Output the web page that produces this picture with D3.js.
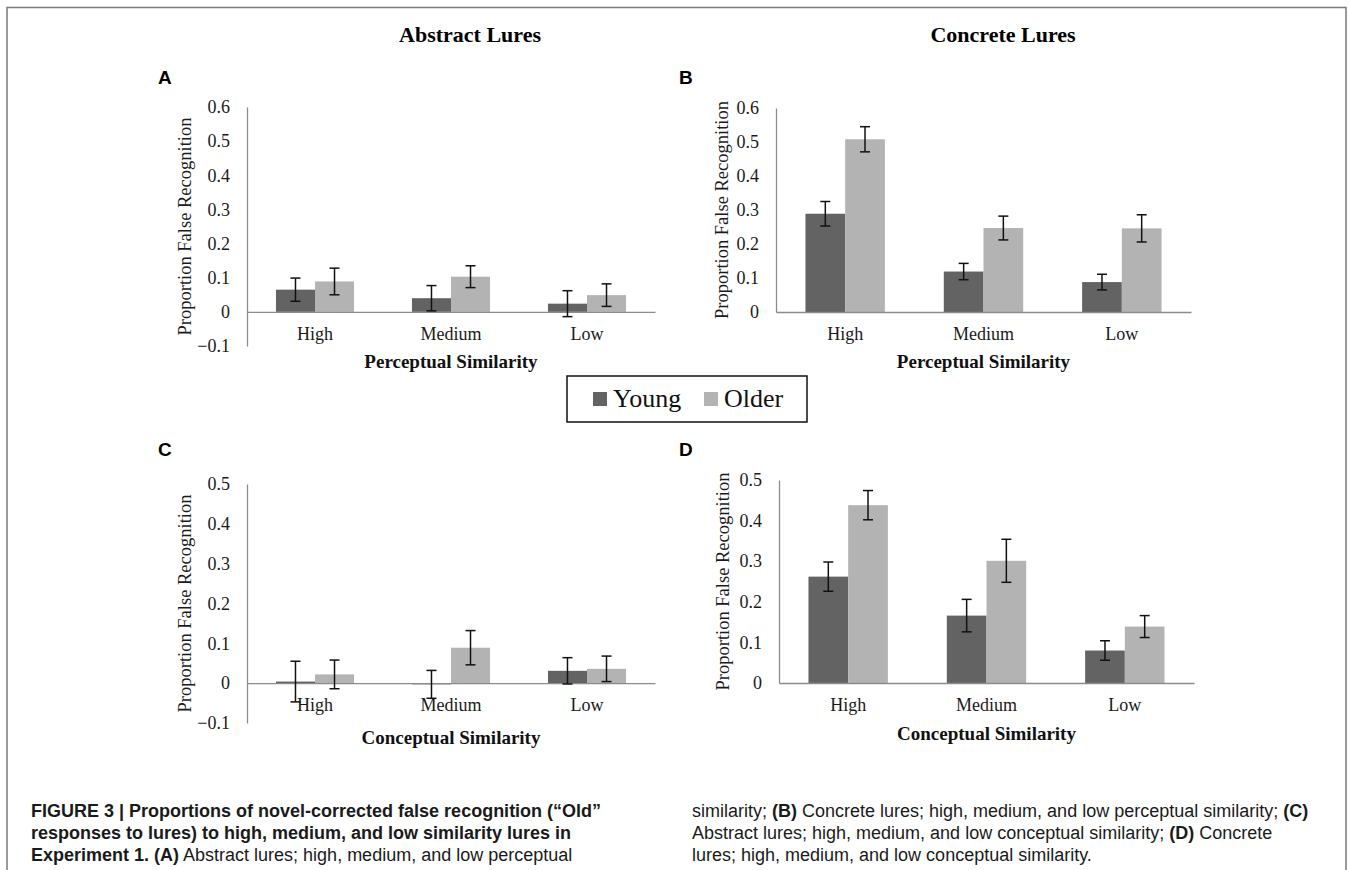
<!DOCTYPE html>
<html>
<head>
<meta charset="utf-8">
<script src="https://cdn.jsdelivr.net/npm/d3@7/dist/d3.min.js"></script>
<style>
  html, body { margin: 0; padding: 0; background: #fff; }
  svg { display: block; }
</style>
</head>
<body>
<svg id="fig" width="1349" height="870"></svg>
<script>

// categories and series
var categories = ["High", "Medium", "Low"];
var seriesNames = ["Young", "Older"];
var seriesColors = ["#636363", "#b3b3b3"];

// (A) abstract lures, perceptual similarity
var youngA = [0.065, 0.040, 0.024];
var olderA = [0.089, 0.103, 0.049];
var errYoungA = [0.034, 0.037, 0.038];
var errOlderA = [0.039, 0.032, 0.033];

// (B) concrete lures, perceptual similarity
var youngB = [0.289, 0.119, 0.088];
var olderB = [0.508, 0.247, 0.246];
var errYoungB = [0.036, 0.024, 0.023];
var errOlderB = [0.037, 0.035, 0.040];

// (C) abstract lures, conceptual similarity
var youngC = [0.004, -0.003, 0.031];
var olderC = [0.022, 0.089, 0.036];
var errYoungC = [0.051, 0.035, 0.033];
var errOlderC = [0.036, 0.043, 0.032];

// (D) concrete lures, conceptual similarity
var youngD = [0.262, 0.166, 0.080];
var olderD = [0.438, 0.301, 0.139];
var errYoungD = [0.036, 0.040, 0.024];
var errOlderD = [0.036, 0.053, 0.027];

// y tick values
var ticksA = [-0.1, 0, 0.1, 0.2, 0.3, 0.4, 0.5, 0.6];
var ticksB = [0, 0.1, 0.2, 0.3, 0.4, 0.5, 0.6];
var ticksC = [-0.1, 0, 0.1, 0.2, 0.3, 0.4, 0.5];
var ticksD = [0, 0.1, 0.2, 0.3, 0.4, 0.5];

var columnTitles = ["Abstract Lures", "Concrete Lures"];
var axisTitles = ["Perceptual Similarity", "Conceptual Similarity"];
var yTitle = "Proportion False Recognition";

var serif = "'Liberation Serif', 'Times New Roman', serif";
var sans = "'Liberation Sans', Arial, Helvetica, sans-serif";

var svg = d3.select("#fig");

// frame round the figure
svg.append("path")
  .attr("d", "M7,870V7.5H1346V870")
  .attr("fill", "none")
  .attr("stroke", "#7a7a7a")
  .attr("stroke-width", 1.5);

/* ======================================
 * One bar panel: grouped bars with error bars,
 * Excel-like axes (zero line as the category axis).
 */
function drawPanel(p) {

  var g = svg.append("g");

  var y = d3.scaleLinear()
    .domain([p.ticks[0], p.ticks[p.ticks.length - 1]])
    .range([p.bottom, p.top]);

  // each category gets an equal slot, bars take ~57% of it
  var x = d3.scaleBand()
    .domain(categories)
    .range([p.left, p.right])
    .paddingInner(0.426)
    .paddingOuter(0.213);

  var xs = d3.scaleBand()
    .domain(seriesNames)
    .range([0, x.bandwidth()]);

  var rows = [];
  categories.forEach(function(c, i) {
    rows.push({ cat: c, s: "Young", v: p.young[i], e: p.errYoung[i] });
    rows.push({ cat: c, s: "Older", v: p.older[i], e: p.errOlder[i] });
  });

  // bars
  g.selectAll("rect.bar").data(rows).enter().append("rect")
    .attr("class", "bar")
    .attr("x", function(d) { return x(d.cat) + xs(d.s); })
    .attr("width", xs.bandwidth())
    .attr("y", function(d) { return Math.min(y(d.v), y(0)); })
    .attr("height", function(d) { return Math.abs(y(d.v) - y(0)); })
    .attr("fill", function(d) { return seriesColors[seriesNames.indexOf(d.s)]; });

  // y axis
  var yAxis = g.append("g")
    .attr("transform", "translate(" + p.left + ",0)")
    .call(d3.axisLeft(y).tickValues(p.ticks).tickSize(0).tickSizeOuter(0).tickPadding(17)
      .tickFormat(function(d) { return d3.format("")(+d.toFixed(1)); }));
  yAxis.select(".domain").attr("stroke", "#8c8c8c").attr("stroke-width", 1.3);
  yAxis.selectAll("text")
    .attr("font-family", serif).attr("font-size", 18).attr("fill", "#1a1a1a");

  // category axis on the zero line
  var xAxis = g.append("g")
    .attr("transform", "translate(0," + y(0) + ")")
    .call(d3.axisBottom(x).tickSize(0).tickSizeOuter(0).tickPadding(15));
  xAxis.select(".domain").attr("stroke", "#8c8c8c").attr("stroke-width", 1.3);
  xAxis.selectAll("text")
    .attr("font-family", serif).attr("font-size", 18).attr("fill", "#1a1a1a");

  // error bars
  var eb = g.selectAll("g.err").data(rows).enter().append("g")
    .attr("class", "err")
    .attr("stroke", "#111")
    .attr("stroke-width", 1.5);
  var cx = function(d) { return x(d.cat) + xs(d.s) + xs.bandwidth() / 2; };
  eb.append("line")
    .attr("x1", cx).attr("x2", cx)
    .attr("y1", function(d) { return y(d.v + d.e); })
    .attr("y2", function(d) { return y(d.v - d.e); });
  eb.append("line")
    .attr("x1", function(d) { return cx(d) - 5; }).attr("x2", function(d) { return cx(d) + 5; })
    .attr("y1", function(d) { return y(d.v + d.e); })
    .attr("y2", function(d) { return y(d.v + d.e); });
  eb.append("line")
    .attr("x1", function(d) { return cx(d) - 5; }).attr("x2", function(d) { return cx(d) + 5; })
    .attr("y1", function(d) { return y(d.v - d.e); })
    .attr("y2", function(d) { return y(d.v - d.e); });

  // axis titles
  g.append("text")
    .attr("x", (p.left + p.right) / 2)
    .attr("y", p.titleY)
    .attr("text-anchor", "middle")
    .attr("font-family", serif).attr("font-weight", "bold").attr("font-size", 19)
    .attr("fill", "#111")
    .text(p.xTitle);

  g.append("text")
    .attr("transform", "translate(" + p.yTitleX + "," + ((p.top + p.bottom) / 2) + ") rotate(-90)")
    .attr("text-anchor", "middle")
    .attr("font-family", serif).attr("font-size", 18.5)
    .attr("fill", "#1a1a1a")
    .text(yTitle);

  // panel letter
  g.append("text")
    .attr("x", p.letterX).attr("y", p.letterY)
    .attr("font-family", sans).attr("font-weight", "bold").attr("font-size", 19)
    .attr("fill", "#000")
    .text(p.letter);
}

drawPanel({ letter: "A", letterX: 158, letterY: 84,
  young: youngA, older: olderA, errYoung: errYoungA, errOlder: errOlderA, ticks: ticksA,
  left: 247, right: 655, top: 107, bottom: 346, titleY: 368, yTitleX: 191, xTitle: axisTitles[0] });

drawPanel({ letter: "B", letterX: 679, letterY: 84,
  young: youngB, older: olderB, errYoung: errYoungB, errOlder: errOlderB, ticks: ticksB,
  left: 776, right: 1191, top: 108, bottom: 312, titleY: 368, yTitleX: 728, xTitle: axisTitles[0] });

drawPanel({ letter: "C", letterX: 158, letterY: 456,
  young: youngC, older: olderC, errYoung: errYoungC, errOlder: errOlderC, ticks: ticksC,
  left: 247, right: 655, top: 484, bottom: 723, titleY: 744, yTitleX: 191, xTitle: axisTitles[1] });

drawPanel({ letter: "D", letterX: 679, letterY: 456,
  young: youngD, older: olderD, errYoung: errYoungD, errOlder: errOlderD, ticks: ticksD,
  left: 779, right: 1194, top: 480, bottom: 683, titleY: 740, yTitleX: 729, xTitle: axisTitles[1] });

// column titles
svg.selectAll("text.coltitle").data(columnTitles).enter().append("text")
  .attr("class", "coltitle")
  .attr("x", function(d, i) { return i === 0 ? 470 : 1003; })
  .attr("y", 42)
  .attr("text-anchor", "middle")
  .attr("font-family", serif).attr("font-weight", "bold").attr("font-size", 22)
  .attr("fill", "#000")
  .text(function(d) { return d; });

// legend
var legend = svg.append("g");
legend.append("rect")
  .attr("x", 567).attr("y", 376).attr("width", 240).attr("height", 46)
  .attr("fill", "#fff").attr("stroke", "#111").attr("stroke-width", 1.5);
var legItems = legend.selectAll("g.item").data(seriesNames).enter().append("g")
  .attr("class", "item")
  .attr("transform", function(d, i) { return "translate(" + (i === 0 ? 593 : 704) + ",0)"; });
legItems.append("rect")
  .attr("x", 0).attr("y", 392).attr("width", 14).attr("height", 14)
  .attr("fill", function(d, i) { return seriesColors[i]; });
legItems.append("text")
  .attr("x", 20).attr("y", 407)
  .attr("font-family", serif).attr("font-size", 26).attr("fill", "#111")
  .text(function(d) { return d; });

// caption
var capLeft = [
  [["FIGURE 3 | Proportions of novel-corrected false recognition (\u201cOld\u201d", true]],
  [["responses to lures) to high, medium, and low similarity lures in", true]],
  [["Experiment 1. (A)", true], [" Abstract lures; high, medium, and low perceptual", false]]
];
var capRight = [
  [["similarity; ", false], ["(B)", true], [" Concrete lures; high, medium, and low perceptual similarity; ", false], ["(C)", true]],
  [["Abstract lures; high, medium, and low conceptual similarity; ", false], ["(D)", true], [" Concrete", false]],
  [["lures; high, medium, and low conceptual similarity.", false]]
];

function caption(lines, x0) {
  lines.forEach(function(parts, i) {
    var t = svg.append("text")
      .attr("x", x0).attr("y", 817 + i * 22)
      .attr("font-family", sans).attr("font-size", 18).attr("fill", "#1a1a1a");
    parts.forEach(function(pt) {
      t.append("tspan")
        .attr("font-weight", pt[1] ? "bold" : "normal")
        .text(pt[0]);
    });
  });
}
caption(capLeft, 31);
caption(capRight, 692);

</script>
</body>
</html>
